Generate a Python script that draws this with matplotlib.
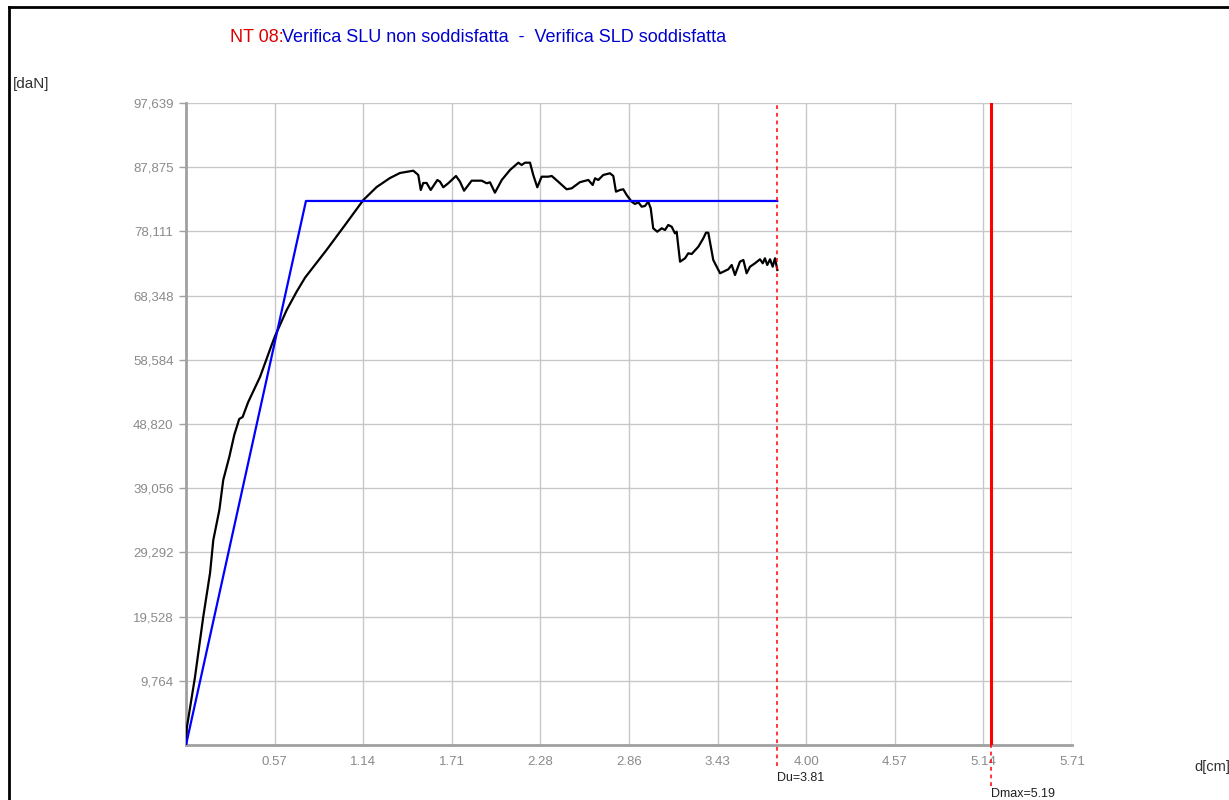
import matplotlib
matplotlib.use("Agg")
import matplotlib.pyplot as plt
from matplotlib.lines import Line2D

plt.rcParams['font.family'] = ['Liberation Sans', 'DejaVu Sans']

# ---- data ----
curve_x = [0.000, 0.005, 0.058, 0.111, 0.155, 0.176, 0.215, 0.240, 0.279, 0.311,
           0.343, 0.365, 0.401, 0.477, 0.552, 0.574, 0.649, 0.713, 0.767, 0.842,
           0.907, 1.025, 1.143, 1.229, 1.315, 1.379, 1.465, 1.497, 1.513, 1.529,
           1.551, 1.577, 1.620, 1.637, 1.658, 1.690, 1.740, 1.766, 1.792, 1.841,
           1.906, 1.938, 1.959, 1.991, 2.035, 2.088, 2.142, 2.163, 2.185, 2.217,
           2.238, 2.264, 2.292, 2.335, 2.357, 2.399, 2.453, 2.486, 2.539, 2.593,
           2.621, 2.636, 2.657, 2.689, 2.732, 2.754, 2.771, 2.797, 2.818, 2.840,
           2.872, 2.894, 2.915, 2.937, 2.958, 2.979, 2.995, 3.011, 3.037, 3.066,
           3.087, 3.108, 3.130, 3.151, 3.162, 3.184, 3.216, 3.237, 3.259, 3.302,
           3.334, 3.351, 3.366, 3.398, 3.442, 3.463, 3.495, 3.517, 3.538, 3.570,
           3.592, 3.613, 3.635, 3.667, 3.699, 3.717, 3.731, 3.746, 3.764, 3.781,
           3.796, 3.811]
curve_y = [0, 2586, 10343, 19468, 26159, 31178, 35741, 40304, 43802, 47148,
           49581, 49886, 52167, 55969, 60836, 62205, 66159, 68943, 71069, 73351,
           75328, 79087, 82889, 84866, 86235, 86995, 87345, 86691, 84410, 85474,
           85474, 84410, 85931, 85672, 84821, 85429, 86539, 85672, 84303, 85824,
           85824, 85429, 85581, 84000, 85931, 87452, 88562, 88212, 88562, 88562,
           86691, 84821, 86433, 86433, 86539, 85672, 84516, 84668, 85600, 85931,
           85170, 86189, 85931, 86691, 86950, 86539, 84152, 84410, 84516, 83650,
           82631, 82281, 82540, 81870, 81977, 82631, 81627, 78585, 78068, 78585,
           78326, 79087, 78828, 77825, 78068, 73505, 74022, 74782, 74676, 75786,
           77064, 77916, 77916, 73764, 71741, 71985, 72349, 73003, 71482, 73505,
           73764, 71741, 72745, 73262, 73870, 73262, 74022, 73003, 73870, 72745,
           74022, 72243]

bilinear_x = [0.0, 0.773, 3.81]
bilinear_y = [0, 82740, 82740]

du = 3.81
dmax = 5.19

xtick_vals = [0.571, 1.142, 1.713, 2.284, 2.855, 3.426, 3.997, 4.568, 5.139, 5.71]
xtick_labels = ['0.57', '1.14', '1.71', '2.28', '2.86', '3.43', '4.00', '4.57', '5.14', '5.71']
ytick_vals = [9764, 19528, 29292, 39056, 48820, 58584, 68348, 78111, 87875, 97639]
ytick_labels = ['9,764', '19,528', '29,292', '39,056', '48,820', '58,584',
                '68,348', '78,111', '87,875', '97,639']

title_red = "NT 08:"
title_blue = "Verifica SLU non soddisfatta  -  Verifica SLD soddisfatta"

# ---- figure ----
W, H = 1229, 800
fig = plt.figure(figsize=(W / 100, H / 100), dpi=100)
fig.patch.set_facecolor('white')

ax = fig.add_axes([186 / W, 1 - 745 / H, (1072 - 186) / W, (745 - 103) / H])
ax.set_xlim(0, 5.71)
ax.set_ylim(0, 97639)

grid_c = '#c8c8c8'
for v in xtick_vals:
    ax.axvline(v, color=grid_c, lw=1.0, zorder=0)
for v in ytick_vals:
    ax.axhline(v, color=grid_c, lw=1.0, zorder=0)

for s in ['top', 'right']:
    ax.spines[s].set_visible(False)
for s in ['left', 'bottom']:
    ax.spines[s].set_color('#a0a0a0')
    ax.spines[s].set_linewidth(2.0)

ax.set_xticks(xtick_vals)
ax.set_xticklabels(xtick_labels)
ax.set_yticks(ytick_vals)
ax.set_yticklabels(ytick_labels)
ax.tick_params(axis='x', length=0, pad=8, labelsize=9.5, labelcolor='#8a8a8a')
ax.tick_params(axis='y', length=5, width=1, color='#a0a0a0', pad=4,
               labelsize=9.5, labelcolor='#8a8a8a')

ax.plot(curve_x, curve_y, color='black', lw=1.6, zorder=3)
ax.plot(bilinear_x, bilinear_y, color='#0000ff', lw=1.6, zorder=4)

# pixel -> data helper for the area below the axes
px_per_unit = (745 - 103) / 97639.0

# Du dashed line (extends below axes)
ax.plot([du, du], [-21 / px_per_unit, 97639], color='#ff0000', lw=1.1,
        linestyle=(0, (2.5, 2.5)), clip_on=False, zorder=5)
ax.text(du, -33 / px_per_unit, "Du=3.81", fontsize=9, color='#202020',
        ha='left', va='center')

# Dmax line
ax.plot([dmax, dmax], [0, 97639], color='#ff0000', lw=2.2, zorder=5)
ax.plot([dmax, dmax], [-41 / px_per_unit, 0], color='#ff0000', lw=1.1,
        linestyle=(0, (2.5, 2.5)), clip_on=False, zorder=5)
ax.text(dmax, -49 / px_per_unit, "Dmax=5.19", fontsize=9, color='#202020',
        ha='left', va='center')

# Title
fig.text(230 / W, 1 - 38 / H, title_red, color='#dd0000', fontsize=13,
         ha='left', va='center')
fig.text(282 / W, 1 - 38 / H, title_blue, color='#0000cc', fontsize=13,
         ha='left', va='center')

# Axis labels
fig.text(13 / W, 1 - 84 / H, "[daN]", color='#303030', fontsize=11,
         ha='left', va='center')
fig.text(1194 / W, 1 - 767 / H, "d[cm]", color='#303030', fontsize=10.5,
         ha='left', va='center')

# Outer frame
fig.add_artist(Line2D([8.5 / W, 1.0], [1 - 7 / H, 1 - 7 / H], color='black',
                      lw=2.0, transform=fig.transFigure))
fig.add_artist(Line2D([8.5 / W, 8.5 / W], [0, 1 - 7 / H], color='black',
                      lw=2.0, transform=fig.transFigure))

fig.savefig("out.png", dpi=100)
